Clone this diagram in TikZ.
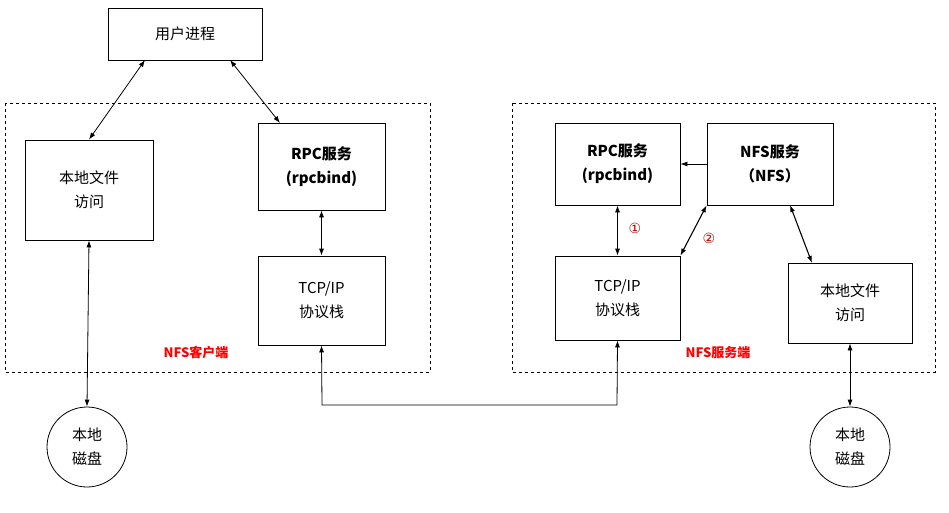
\documentclass[tikz,border=0pt]{standalone}
\usepackage{fontspec}
\setmainfont{Liberation Serif}
\newfontfamily\cjk{Noto Sans CJK SC}
\newfontfamily\djv{DejaVu Sans}
\usetikzlibrary{arrows.meta}
\begin{document}
\begin{tikzpicture}[x=1pt,y=-1pt,
  box/.style={draw,line width=0.8pt,align=center,font=\cjk\fontsize{15}{24}\selectfont,inner sep=0pt},
  grp/.style={draw,dashed,line width=0.7pt},
  arr/.style={{Latex[length=7pt,width=5pt]}-{Latex[length=7pt,width=5pt]},line width=0.8pt},
  lbl/.style={text=red,font=\cjk\bfseries\fontsize{13}{15}\selectfont},
  num/.style={text=red!70!black,font=\djv\fontsize{14}{14}\selectfont}]
\useasboundingbox (0,0) rectangle (949,513);
\draw[grp] (5,103) rectangle (430,372);
\draw[grp] (512,103) rectangle (935,372);
\node[box,minimum width=154,minimum height=52] (user) at (185,34) {用户进程};
\node[box,minimum width=128,minimum height=100] (clf) at (89,190) {本地文件\\访问};
\node[box,minimum width=127,minimum height=87] (crpc) at (321.5,166.5) {\textbf{RPC服务}\\\textbf{(rpcbind)}};
\node[box,minimum width=127,minimum height=89] (ctcp) at (321.5,300.5) {TCP/IP\\协议栈};
\node[box,minimum width=125,minimum height=82] (srpc) at (617.5,164) {\textbf{RPC服务}\\\textbf{(rpcbind)}};
\node[box,minimum width=126,minimum height=82] (snfs) at (770,164) {\textbf{NFS服务}\\\textbf{（NFS）}};
\node[box,minimum width=125,minimum height=84] (stcp) at (617.5,298) {TCP/IP\\协议栈};
\node[box,minimum width=124,minimum height=80] (slf) at (850,303) {本地文件\\访问};
\node[box,circle,minimum size=80] (cdisk) at (87,447) {本地\\磁盘};
\node[box,circle,minimum size=80] (sdisk) at (850,447) {本地\\磁盘};
\node[lbl] (l1) at (196,353) {NFS客户端};
\node[lbl] (l2) at (718,353) {NFS服务端};
\coordinate (u1) at (145,60); \coordinate (u2) at (230,60);
\draw[arr] (u1) -- (clf.north);
\draw[arr] (u2) -- (280,123);
\draw[arr] (clf.south) -- (cdisk.north);
\draw[arr] (crpc.south) -- (ctcp.north);
\draw[arr] (srpc.south) -- (stcp.north);
\draw[-{Latex[length=7pt,width=5pt]},line width=0.8pt] (snfs.west) -- (srpc.east);
\draw[arr,line width=1.1pt] (snfs.south west) -- (stcp.north east);
\draw[arr,line width=1.1pt] (790,205) -- (812,263);
\draw[arr] (slf.south) -- (sdisk.north);
\draw[arr] (ctcp.south) -- (322,405) -- (617,405) -- (stcp.south);
\node[num] (n1) at (635,228) {①};
\node[num] (n2) at (709,238) {②};
\end{tikzpicture}
\end{document}
